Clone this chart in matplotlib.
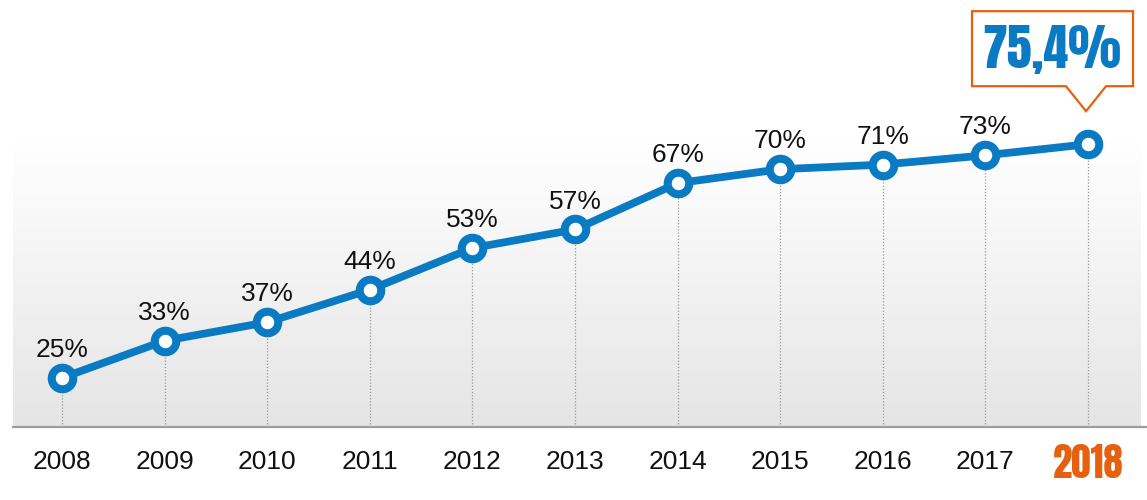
import matplotlib
matplotlib.use("Agg")
import matplotlib.pyplot as plt
import matplotlib.transforms as mtransforms
from matplotlib.patches import Polygon
import numpy as np

plt.rcParams['font.family'] = ['Liberation Sans', 'DejaVu Sans']

years = ['2008', '2009', '2010', '2011', '2012', '2013', '2014', '2015', '2016', '2017', '2018']
values = [25, 33, 37, 44, 53, 57, 67, 70, 71, 73, 75.4]
labels = ['25%', '33%', '37%', '44%', '53%', '57%', '67%', '70%', '71%', '73%']
last_label = '75,4%'

blue = '#0a7bc3'
orange = '#e5600f'
narrow = ['Anton', 'Oswald', 'Fira Sans Extra Condensed', 'DejaVu Sans']

fig = plt.figure(figsize=(11.47, 5.0), dpi=100)
ax = fig.add_axes([13 / 1147, 73 / 500, 1134 / 1147, 427 / 500])
x = np.arange(len(years))
ymin = 14.4
ax.set_xlim(-0.4776, 10.575)
ax.set_ylim(ymin, 106.5)

# gradient background
grad = np.linspace(0, 1, 256).reshape(-1, 1)
cmap = matplotlib.colors.LinearSegmentedColormap.from_list('g', ['#e5e5e5', '#ffffff'])
ax.imshow(grad, extent=[-0.4776, 10.51, ymin, 76.3], origin='lower', aspect='auto',
          cmap=cmap, zorder=0, interpolation='bilinear')

# dotted drop lines
ax.vlines(x, ymin, values, colors='#9a9a9a', linestyles=(0, (1, 1.5)), linewidth=0.9, zorder=1)

# main line
ax.plot(x, values, color=blue, linewidth=5.6, zorder=3, solid_capstyle='round')
ax.plot(x, values, linestyle='none', marker='o', markersize=15.5, markerfacecolor='white',
        markeredgecolor=blue, markeredgewidth=5.8, zorder=4)

for xi, v, t in zip(x, values, labels):
    ax.annotate(t, (xi, v), xytext=(0, 15), textcoords='offset points', ha='center',
                va='baseline', fontsize=19, color='#111111', zorder=5)

# callout box for the last point
trans = fig.dpi_scale_trans + mtransforms.ScaledTranslation(x[-1], values[-1], ax.transData)
px = 1 / 100
box = [(-116, 58), (-116, 133), (45, 133), (45, 58), (18, 58), (-2, 33), (-22, 58)]
ax.add_patch(Polygon([(a * px, b * px) for a, b in box], closed=True, transform=trans,
                     facecolor='white', edgecolor=orange, linewidth=1.6, zorder=6, clip_on=False))
ax.text(-36 * px, 95 * px, last_label, transform=trans, ha='center', va='center',
        fontsize=36, fontweight='bold', color=blue, family=narrow, zorder=7)

# axes styling
for s in ['top', 'left', 'right']:
    ax.spines[s].set_visible(False)
ax.spines['bottom'].set_color('#9c9c9c')
ax.spines['bottom'].set_linewidth(1.6)
ax.set_yticks([])
ax.set_xticks(x)
ax.set_xticklabels(years, fontsize=19, color='#111111')
ax.tick_params(axis='x', length=0, pad=16.5)

# highlighted last year, drawn a bit higher than the other tick labels
lab = ax.get_xticklabels()[-1]
lab.set_visible(False)
ax.annotate(years[-1], (x[-1], ymin), xytext=(0, -12), textcoords='offset points',
            ha='center', va='top', fontsize=28, fontweight='bold', color=orange,
            family=narrow, annotation_clip=False)

fig.text(13 / 1147, -0.006, 'Источник: Служба ГНИ России, Росстат, расчеты на основе 18 регионов',
         color=orange, fontsize=11, va='top', ha='left')

fig.savefig('out.png', dpi=100)
